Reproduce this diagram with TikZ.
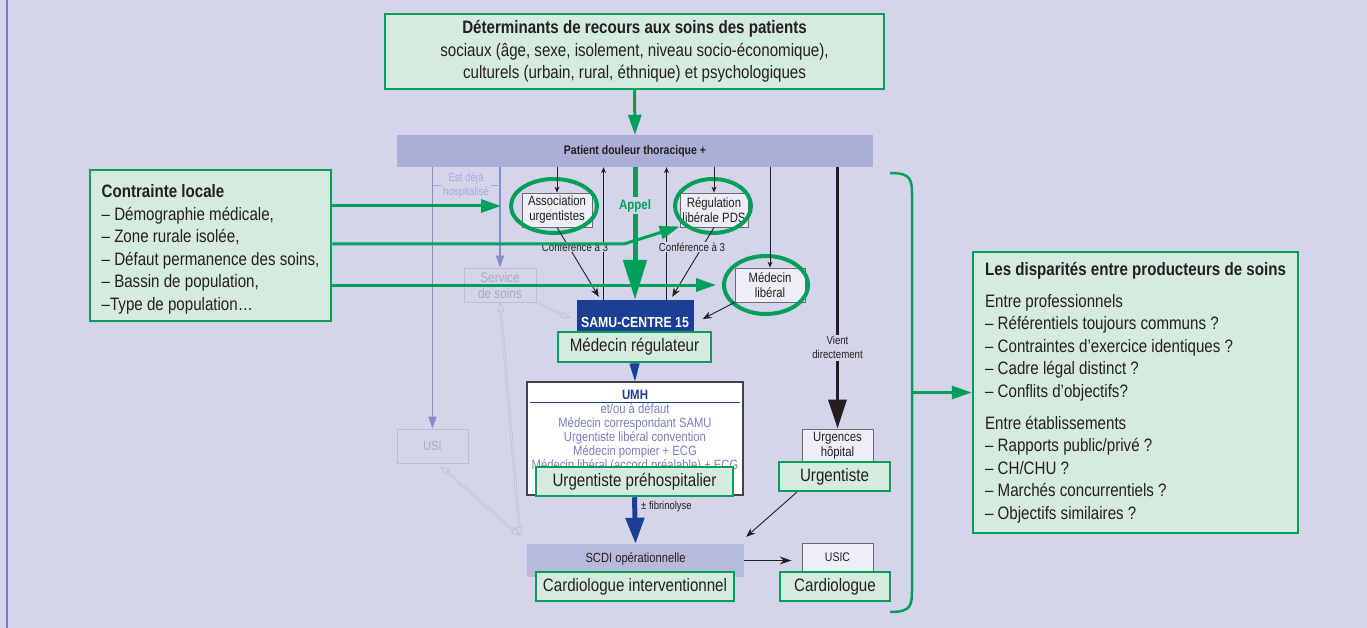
\documentclass[tikz,border=0pt]{standalone}
\usepackage{fontspec}
\setmainfont{Liberation Sans}[FakeStretch=0.84]
\usepackage{xcolor}
\usetikzlibrary{arrows.meta, shapes.geometric, calc}

\definecolor{bgcol}{HTML}{D4D4EA}
\definecolor{grn}{HTML}{00A05A}
\definecolor{grnfill}{HTML}{D6EBE0}
\definecolor{barcol}{HTML}{ABAED7}
\definecolor{scdicol}{HTML}{B8BADC}
\definecolor{samublue}{HTML}{1C3F94}
\definecolor{boxfill}{HTML}{EEEEF6}
\definecolor{boxline}{HTML}{6A6A72}
\definecolor{lav}{HTML}{858ECB}
\definecolor{lavtxt}{HTML}{A4AAD8}
\definecolor{fade}{HTML}{BDBDD3}
\definecolor{fadetxt}{HTML}{A8A8C0}
\definecolor{umhtxt}{HTML}{7880C0}
\definecolor{txt}{HTML}{231F20}
\definecolor{edge}{HTML}{6E7FBF}

\newcommand{\fsz}[2]{\fontsize{#1}{#2}\selectfont}

\tikzset{
  greenbox/.style={draw=grn, line width=2.5pt, fill=grnfill, inner sep=0pt, text=txt},
  smallbox/.style={draw=boxline, line width=0.8pt, fill=boxfill, inner sep=0pt, align=center, text=txt, font=\fsz{13.5}{15}},
  fadebox/.style={draw=fade, line width=0.8pt, fill=bgcol, inner sep=0pt, align=center, text=fadetxt},
  ring/.style={ellipse, draw=grn, line width=4pt, inner sep=0pt},
  thinarr/.style={draw=txt, line width=0.9pt, -{Stealth[length=9pt,width=7pt]}},
  greenarr/.style={draw=grn, line width=3pt, -{Triangle[length=20pt,width=13pt]}},
  lavarr/.style={draw=lav, line width=1.7pt, -{Triangle[length=12pt,width=8pt]}},
  fadearr/.style={draw=fade, line width=0.6pt, double=bgcol, double distance=1.2pt},
  smalllabel/.style={font=\fsz{11.5}{13.5}, inner sep=1pt, fill=bgcol, align=center, text=txt}
}

\begin{document}
\begin{tikzpicture}[x=1pt, y=-1pt, font=\fsz{18}{22.5}, text=txt]
  \fill[bgcol] (0,0) rectangle (1367,628);
  \useasboundingbox (0,0) rectangle (1367,628);
  \draw[edge, line width=1.2pt] (7,0) -- (7,628);

  % main boxes
  \node[greenbox, minimum width=499pt, minimum height=75pt, align=center] (det) at (634.5,51.5)
    {\textbf{Déterminants de recours aux soins des patients}\\
     sociaux (âge, sexe, isolement, niveau socio-économique),\\
     culturels (urbain, rural, éthnique) et psychologiques};
  \node[fill=barcol, minimum width=476pt, minimum height=32pt, inner sep=0pt, font=\fsz{12.5}{14}\bfseries] (patient) at (635,151)
    {Patient douleur thoracique +};
  \node[greenbox, minimum width=241pt, minimum height=151pt, align=left] (contrainte) at (210.5,245.5)
    {\rule{0pt}{21pt}\textbf{Contrainte locale}\\ – Démographie médicale,\\ – Zone rurale isolée,\\
     – Défaut permanence des soins,\\ – Bassin de population,\\ –Type de population…};
  \node[greenbox, minimum width=325pt, minimum height=281pt, align=left] (disp) at (1135.5,392.5)
    {\textbf{Les disparités entre producteurs de soins}\\[9.5pt]
     Entre professionnels\\ – Référentiels toujours communs ?\\ – Contraintes d’exercice identiques ?\\
     – Cadre légal distinct ?\\ – Conflits d’objectifs?\\[9.5pt]
     Entre établissements\\ – Rapports public/privé ?\\ – CH/CHU ?\\
     – Marchés concurrentiels ?\\ – Objectifs similaires ?};

  % already in hospital (faded)
  \node[fadebox, minimum width=72pt, minimum height=34pt, font=\fsz{14}{16}] (service) at (500,285) {Service\\de soins};
  \node[fadebox, minimum width=71pt, minimum height=34pt, font=\fsz{13}{15}] (usi) at (432.5,446) {USI};
  \draw[lavarr] (patient.south -| usi.north) -- (usi.north);
  \draw[lavarr] (patient.south -| service.north) -- (service.north);
  \node[font=\fsz{11.5}{14}, text=lavtxt, align=center, inner sep=1pt] (deja) at (466,185) {Est déjà\\hospitalisé};
  \draw[lavtxt, line width=0.8pt] (deja.west -| usi.north) -- ++(9,0);
  \draw[lavtxt, line width=0.8pt] (deja.east -| service.north) -- ++(-9,0);
  \coordinate (join) at (520,536);
  \draw[fadearr, {Triangle[open,length=9pt,width=7pt]}-{Triangle[open,length=9pt,width=7pt]}] ($(usi.south)+(8,3)$) -- (join);
  \draw[fadearr, {Triangle[open,length=9pt,width=7pt]}-{Triangle[open,length=9pt,width=7pt]}] (service.south) -- (join);

  % libéral / urgentistes
  \node[smallbox, minimum width=70pt, minimum height=34pt] (assoc) at (557,210) {Association\\urgentistes};
  \node[smallbox, minimum width=68pt, minimum height=34pt] (regul) at (714,210) {Régulation\\libérale PDS};
  \node[smallbox, minimum width=70pt, minimum height=34pt] (medlib) at (770,285) {Médecin\\libéral};
  \node[ring, minimum width=86pt, minimum height=54pt] (assocring) at (554,206) {};
  \node[ring, minimum width=76pt, minimum height=54pt] (regring) at (713,206) {};
  \node[ring, minimum width=84pt, minimum height=58pt] (medring) at (766,285) {};

  % SAMU
  \node[fill=samublue, text=white, font=\fsz{14.6}{16}\bfseries, minimum width=117pt, minimum height=44pt, inner sep=0pt] (samu) at (635,322)
    {SAMU-CENTRE 15};
  \node[greenbox, minimum width=153pt, minimum height=30pt] (medreg) at (634.5,347) {Médecin régulateur};
  \draw[fadearr, -{Triangle[open,length=9pt,width=7pt]}] (service.south east) -- ($(samu.west)+(-6,-4)$);

  \draw[thinarr, -{Stealth[length=6pt,width=5pt]}] (patient.south -| assoc.north) -- (assoc.north);
  \draw[thinarr, -{Stealth[length=6pt,width=5pt]}] (patient.south -| regul.north) -- (regul.north);
  \draw[thinarr, -{Stealth[length=6pt,width=5pt]}] (patient.south -| medlib.north) -- (medlib.north);
  \draw[thinarr, -{Stealth[length=6pt,width=5pt]}] ([xshift=-31.5pt]samu.north) -- ([xshift=-31.5pt]samu.north |- patient.south);
  \draw[thinarr, -{Stealth[length=6pt,width=5pt]}] ([xshift=31.5pt]samu.north) -- ([xshift=31.5pt]samu.north |- patient.south);
  \draw[thinarr] (assoc.south) -- ($(samu.north west)+(22.5,-3)$);
  \draw[thinarr] (regul.south) -- ($(samu.north east)+(-21.5,-3)$);
  \draw[thinarr] (medlib.south west) -- ($(samu.east)+(9,-3)$);
  \node[smalllabel] (conf1) at (575,247) {Conférence à 3};
  \node[smalllabel] (conf2) at (692,247) {Conférence à 3};

  % call
  \draw[draw=grn, line width=5pt, -{Triangle[length=40pt,width=23pt]}] (patient.south) -- (samu.north)
    node[pos=0.29, fill=bgcol, inner sep=2pt, text=grn, font=\fsz{13.7}{15}\bfseries] (appel) {Appel};

  % constraints
  \coordinate (kink) at (624,244);
  \draw[greenarr] (det.south) -- (patient.north);
  \draw[greenarr] (contrainte.east |- assocring.west) -- ([xshift=-8pt]assocring.west);
  \draw[greenarr] (contrainte.east |- kink) -- (kink) -- ([xshift=-5pt]regring.south west);
  \draw[greenarr] (contrainte.east |- medring.west) -- ([xshift=-6pt]medring.west);

  % UMH
  \node[draw=txt!85, line width=1.2pt, fill=white, minimum width=216pt, minimum height=113pt, inner sep=0pt] (umh) at (635,438.5) {};
  \node[font=\fsz{13.6}{15}\bfseries, text=samublue, inner sep=0pt] (umhtitle) at (635,395) {UMH};
  \draw[samublue, line width=0.8pt] ($(umh.north west)+(4,21)$) -- ($(umh.north east)+(-4,21)$);
  \node[font=\fsz{13.4}{14}, text=umhtxt, align=center, anchor=north, inner sep=0pt] (umhlist) at (635,403)
    {et/ou à défaut\\ Médecin correspondant SAMU\\ Urgentiste libéral convention\\
     Médecin pompier + ECG\\ Médecin libéral (accord préalable) + ECG};
  \node[greenbox, minimum width=197pt, minimum height=29pt] (urgpre) at (634.5,481.5) {Urgentiste préhospitalier};
  \draw[draw=samublue, line width=1pt, -{Triangle[length=18pt,width=10pt]}] (medreg.south) -- (umh.north);

  % hospital
  \node[fill=scdicol, minimum width=217pt, minimum height=33pt, inner sep=0pt] (scdi) at (635.5,560.5) {};
  \node[font=\fsz{13.3}{15}, inner sep=0pt] (scditxt) at (635.5,559) {SCDI opérationnelle};
  \node[greenbox, minimum width=198pt, minimum height=29pt] (cardint) at (635,586.5) {Cardiologue interventionnel};
  \node[smallbox, minimum width=71pt, minimum height=33pt] (urghop) at (837.5,445.5) {Urgences\\hôpital};
  \node[greenbox, minimum width=111pt, minimum height=29pt] (urgentiste) at (834.5,476.5) {Urgentiste};
  \node[smallbox, minimum width=71pt, minimum height=29pt, font=\fsz{12.5}{14}] (usic) at (837.5,557.5) {USIC};
  \node[greenbox, minimum width=110pt, minimum height=29pt] (cardio) at (835,586.5) {Cardiologue};

  \draw[draw=txt, line width=3.5pt, -{Triangle[length=29pt,width=18pt]}] (patient.south -| urghop.north) -- (urghop.north)
    node[pos=0.69, smalllabel, inner sep=2pt] (vient) {Vient\\directement};
  \draw[draw=samublue, line width=5pt, -{Triangle[length=26pt,width=18pt]}] (urgpre.south) -- (scdi.north)
    node[pos=0.19, anchor=west, xshift=3pt, font=\fsz{11.3}{13}, inner sep=1pt] (fibri) {± fibrinolyse};
  \draw[thinarr] ($(urgentiste.south west)+(19,0)$) -- ($(scdi.north east)+(2,-7)$);
  \draw[thinarr, line width=1.5pt, -{Stealth[length=12pt,width=8pt]}, shorten >=10pt] (scdi.east) -- (scdi.east -| usic.west);

  % brace
  \draw[grn, line width=2.5pt] (890,173) .. controls (912,173) and (912,180) .. (912,197)
    -- (912,588) .. controls (912,605) and (912,612) .. (890,612);
  \coordinate (bracemid) at (912,392.5);
  \draw[greenarr] (bracemid) -- (disp.west);
\end{tikzpicture}
\end{document}
